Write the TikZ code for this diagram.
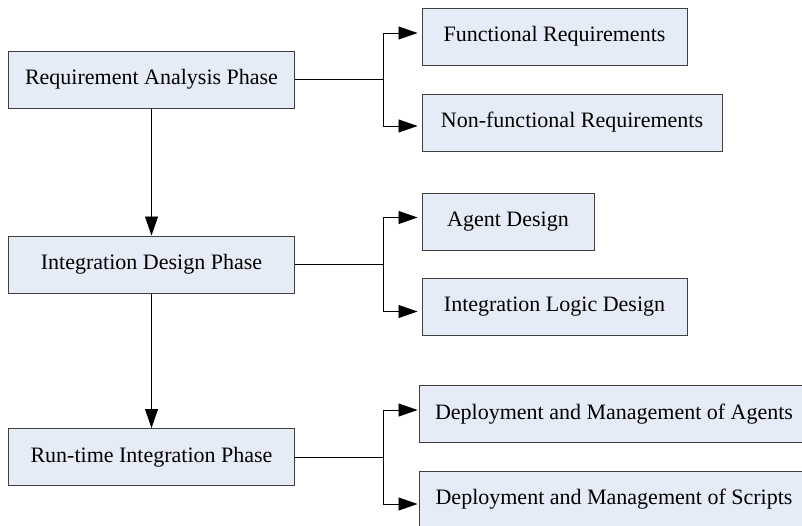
\documentclass[tikz,border=0pt]{standalone}
\usepackage{fontspec}
\setmainfont{Liberation Serif}
\usetikzlibrary{arrows.meta}
\definecolor{boxfill}{RGB}{230,236,247}
\definecolor{boxline}{RGB}{64,64,64}

\begin{document}
\begin{tikzpicture}[x=1pt,y=-1pt,
  phase/.style={draw=boxline,fill=boxfill,line width=1pt,minimum height=57pt,
    inner sep=0pt,font=\fontsize{22}{26}\selectfont},
  link/.style={draw,line width=0.8pt,-{Triangle[length=19pt,width=13pt]}}]
  \useasboundingbox (0,0) rectangle (802,525);
  \begin{scope}
    \clip (0,0) rectangle (802,525);

    \node[phase,minimum width=286pt] (req) at (151.5,79.5) {Requirement Analysis Phase};
    \node[phase,minimum width=286pt] (integ) at (151.5,264.5) {Integration Design Phase};
    \node[phase,minimum width=286pt] (run) at (151.5,457) {Run-time Integration Phase};

    \node[phase,minimum width=265pt] (func) at (554.5,36.5) {Functional Requirements};
    \node[phase,minimum width=300pt] (nonf) at (572,122.5) {Non-functional Requirements};
    \node[phase,minimum width=172pt] (agent) at (508,221.5) {Agent Design};
    \node[phase,minimum width=265pt] (logic) at (554.5,306.5) {Integration Logic Design};
    \node[phase,minimum width=390pt] (depA) at (614,414) {Deployment and Management of Agents};
    \node[phase,minimum width=390pt] (depS) at (614,499.5) {Deployment and Management of Scripts};

    \coordinate (f1) at (383,79.5);
    \coordinate (f2) at (383,264.5);
    \coordinate (f3) at (383,457);

    \path[link] (req.south) -- (integ.north);
    \path[link] (integ.south) -- (run.north);

    \path[draw,line width=0.8pt] (req.east) -- (f1);
    \path[link,shorten >=4pt] (f1) |- ([yshift=3.5pt]func.west);
    \path[link,shorten >=4pt] (f1) |- ([yshift=-3.5pt]nonf.west);

    \path[draw,line width=0.8pt] (integ.east) -- (f2);
    \path[link,shorten >=4pt] (f2) |- ([yshift=4pt]agent.west);
    \path[link,shorten >=4pt] (f2) |- ([yshift=-5pt]logic.west);

    \path[draw,line width=0.8pt] (run.east) -- (f3);
    \path[link,shorten >=1pt] (f3) |- ([yshift=4pt]depA.west);
    \path[link,shorten >=1pt] (f3) |- ([yshift=-4.5pt]depS.west);
  \end{scope}
\end{tikzpicture}
\end{document}
